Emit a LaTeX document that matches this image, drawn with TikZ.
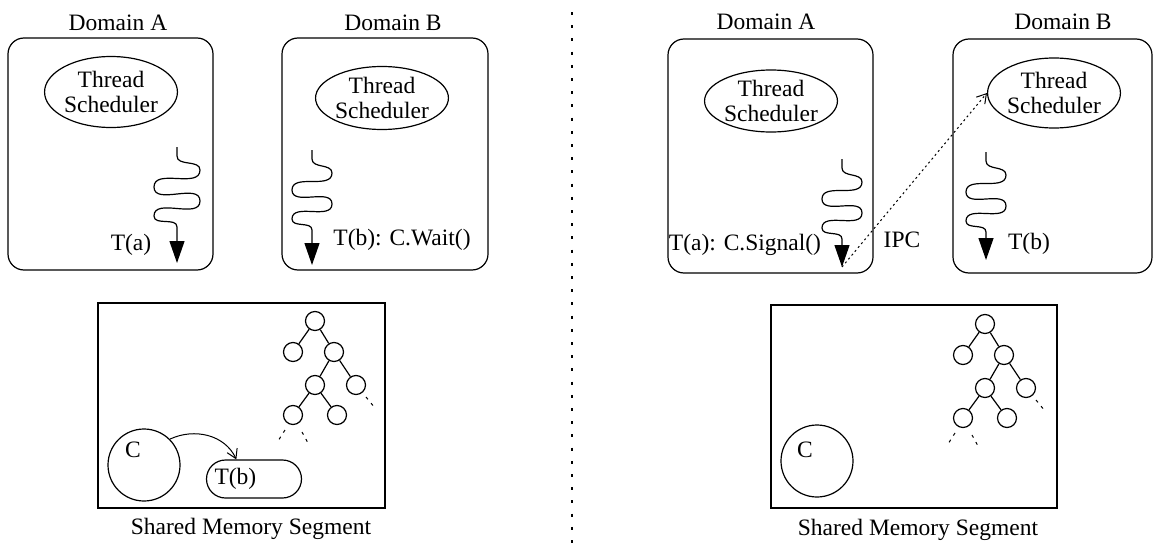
\documentclass[tikz,border=0pt]{standalone}
\usepackage{fontspec}
\setmainfont{Liberation Serif}
\usetikzlibrary{arrows.meta,shapes.geometric,calc}
\newcommand\mytree[3]{%
  \node[tn] (#1r) at ({315+#2},{321+#3}) {};
  \node[tn] (#1a) at ({293+#2},{352+#3}) {};
  \node[tn] (#1b) at ({334+#2},{352+#3}) {};
  \node[tn] (#1c) at ({315+#2},{385+#3}) {};
  \node[tn] (#1d) at ({356+#2},{385+#3}) {};
  \node[tn] (#1e) at ({293+#2},{415+#3}) {};
  \node[tn] (#1f) at ({337+#2},{415+#3}) {};
  \draw (#1r) -- (#1a);
  \draw (#1r) -- (#1b);
  \draw (#1b) -- (#1c);
  \draw (#1b) -- (#1d);
  \draw (#1c) -- (#1e);
  \draw (#1c) -- (#1f);
  \draw[stub] ([shift={(10,12)}]#1d.center) -- ++(9,11);
  \draw[stub] ([shift={(-8,15)}]#1e.center) -- ++(-7,11);
  \draw[stub] ([shift={(9,17)}]#1e.center) -- ++(6,11);
}
\newcommand\mythread[3]{%
  \draw[thread] #1 -- ++(0,9) to[out=-90,in=90] ++(#2,14)
    to[out=-90,in=90] ++({-2*#2},17) to[out=-90,in=90] ++({2*#2},14)
    to[out=-90,in=90] ++({-2*#2},15) to[out=-90,in=90] ++(#2,11) -- (#3);
}
\begin{document}
\begin{tikzpicture}[x=1pt,y=-1pt,line width=1.2pt,
  every node/.style={font=\fontsize{23.5}{24.5}\selectfont},
  dombox/.style={draw,rounded corners=16pt,inner sep=0pt},
  sched/.style={draw,ellipse,inner sep=0pt,align=center},
  membox/.style={draw,inner sep=0pt},
  tn/.style={draw,circle,minimum size=19pt,inner sep=0pt},
  stub/.style={line width=1pt,dash pattern=on 3pt off 5pt},
  thread/.style={line width=1.2pt,-{Triangle[length=22pt,width=15pt]}},
  barb/.style={line width=1pt,-{Straight Barb[length=9pt,width=11pt]}},
  ipc/.style={barb,dash pattern=on 2pt off 3pt},
  lbl/.style={anchor=base,inner sep=0pt}]
\useasboundingbox (0,0) rectangle (1154,546);

% divider
\coordinate (divtop) at (572,12);
\coordinate (divbot) at (572,544);
\draw[line width=2pt,dash pattern=on 3pt off 10.2pt] (divtop) -- (divbot);

% ---------- left half ----------
\node[lbl] (labLA) at (118,30) {Domain A};
\node[lbl] (labLB) at (393,30) {Domain B};
\node[dombox,minimum width=205pt,minimum height=232pt] (boxLA) at (110.5,154) {};
\node[dombox,minimum width=206pt,minimum height=232pt] (boxLB) at (385,154) {};
\node[sched,minimum width=132pt,minimum height=71pt] (schLA) at (111,92) {Thread\\Scheduler};
\node[sched,minimum width=129pt,minimum height=63pt] (schLB) at (382,98) {Thread\\Scheduler};

\coordinate (tipLA) at (177,263);
\coordinate (tipLB) at (312,265);
\mythread{(177,147)}{23}{tipLA}
\mythread{(312,150)}{20}{tipLB}
\node[lbl] (tLA) at (131,250) {T(a)};
\node[lbl] (tLB) at (402,245) {T(b): C.Wait()};

\node[membox,minimum width=287pt,minimum height=205pt] (memL) at (241.5,405.5) {};
\node[lbl] (memLlab) at (251,534) {Shared Memory Segment};
\node[draw,circle,minimum size=72pt,inner sep=0pt] (cL) at (144,465) {};
\node[lbl] (cLt) at (133,457) {C};
\node[draw,rounded corners=19pt,minimum height=38pt,text width=79pt,inner xsep=8pt,inner ysep=0pt,align=left] (tbL) at (254,479) {T(b)};
\draw[barb] (cL.45) to[out=25,in=115] (tbL.132);
\mytree{L}{0}{0}

% ---------- right half ----------
\node[lbl] (labRA) at (766,29) {Domain A};
\node[lbl] (labRB) at (1063,29) {Domain B};
\node[dombox,minimum width=205pt,minimum height=234pt] (boxRA) at (770.5,156) {};
\node[dombox,minimum width=199pt,minimum height=234pt] (boxRB) at (1052.5,156) {};
\node[sched,minimum width=131pt,minimum height=62pt] (schRA) at (771,101) {Thread\\Scheduler};
\node[sched,minimum width=132pt,minimum height=70pt] (schRB) at (1054,93) {Thread\\Scheduler};

\coordinate (tipRA) at (842,267);
\coordinate (tipRB) at (986,260);
\draw[ipc] (tipRA) -- (schRB.west);
\mythread{(842,159)}{20}{tipRA}
\mythread{(986,152)}{20}{tipRB}
\node[lbl] (tRA) at (745,250) {T(a): C.Signal()};
\node[lbl] (ipcl) at (902,247) {IPC};
\node[lbl] (tRB) at (1029,249) {T(b)};

\node[membox,minimum width=286pt,minimum height=203pt] (memR) at (914,406.5) {};
\node[lbl] (memRlab) at (918,535) {Shared Memory Segment};
\node[draw,circle,minimum size=72pt,inner sep=0pt] (cR) at (817,461) {};
\node[lbl] (cRt) at (805,457) {C};
\mytree{R}{670}{3}
\end{tikzpicture}
\end{document}
